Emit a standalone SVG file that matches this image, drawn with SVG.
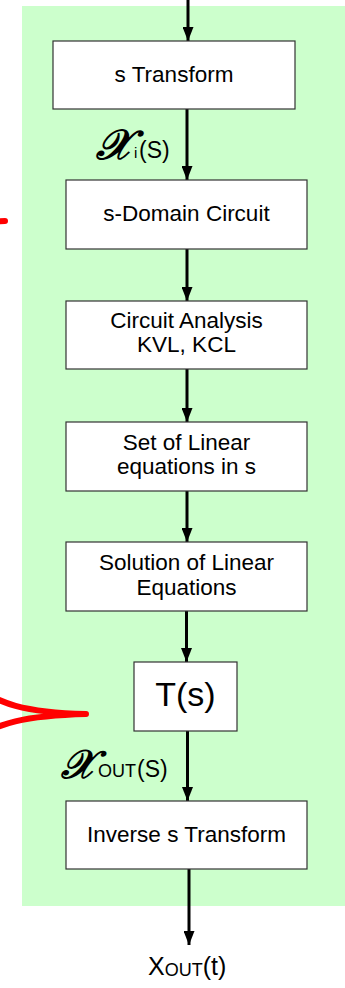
<svg xmlns="http://www.w3.org/2000/svg" width="345" height="988" viewBox="0 0 345 988">
<defs>
<marker id="ah" markerUnits="userSpaceOnUse" markerWidth="14" markerHeight="11" refX="14" refY="5.5" orient="auto">
<path d="M0,0 L14,5.5 L0,11 z" fill="#000"/>
</marker>
<style>
.box{fill:#fff;stroke:#333;stroke-width:1.2}
.t{font-family:"Liberation Sans",Arial,sans-serif;font-size:22.5px;fill:#000;text-anchor:middle}
.lbl{font-family:"Liberation Sans",Arial,sans-serif;fill:#000}
.scr{font-family:"DejaVu Serif","Liberation Serif",serif;font-style:italic;font-weight:bold;fill:#000}
.c{stroke:#000;stroke-width:3;fill:none;marker-end:url(#ah)}
.red{stroke:#ff0000;stroke-width:6;fill:none;stroke-linecap:round}
</style>
</defs>
<rect x="22" y="6" width="323" height="900" fill="#ccffcc"/>
<path class="red" d="M5,221 C-6,221 -20,226 -20,240"/>
<path class="red" d="M-20,690 C-5,698 10,712 86,714 M-20,735 C-5,728 10,716 86,714"/>
<g id="connectors">
<line class="c" x1="188" y1="0" x2="188" y2="41"/>
<line class="c" x1="187" y1="109" x2="187" y2="180"/>
<line class="c" x1="187" y1="249" x2="187" y2="301"/>
<line class="c" x1="187" y1="369" x2="187" y2="422"/>
<line class="c" x1="187" y1="491" x2="187" y2="542"/>
<line class="c" x1="186.5" y1="611" x2="186.5" y2="662"/>
<line class="c" x1="187.5" y1="731" x2="187.5" y2="801"/>
<line class="c" x1="189" y1="869" x2="189" y2="945"/>
</g>
<g id="n1"><rect class="box" x="53" y="41" width="242" height="68"/><text class="t" x="174" y="82">s Transform</text></g>
<g id="n2"><rect class="box" x="66" y="180" width="241" height="69"/><text class="t" x="186.5" y="221">s-Domain Circuit</text></g>
<g id="n3"><rect class="box" x="66" y="301" width="241" height="68"/><text class="t" x="186.5" y="328">Circuit Analysis</text><text class="t" x="186.5" y="352">KVL, KCL</text></g>
<g id="n4"><rect class="box" x="66" y="422" width="241" height="69"/><text class="t" x="186.5" y="450">Set of Linear</text><text class="t" x="186.5" y="474">equations in s</text></g>
<g id="n5"><rect class="box" x="66" y="542" width="241" height="69"/><text class="t" x="186.5" y="570">Solution of Linear</text><text class="t" x="186.5" y="595">Equations</text></g>
<g id="n6"><rect class="box" x="134" y="662" width="103" height="69"/><text class="t" x="185.5" y="706" style="font-size:34px">T(s)</text></g>
<g id="n7"><rect class="box" x="66" y="801" width="241" height="68"/><text class="t" x="186.5" y="842">Inverse s Transform</text></g>
<g id="lbl-xi"><text class="scr" x="96" y="159" font-size="42">𝒳</text><text class="lbl" x="134" y="158" font-size="15">i</text><text class="lbl" x="139" y="158" font-size="23">(S)</text></g>
<g id="lbl-xout"><text class="scr" x="61" y="778" font-size="40">𝒳</text><text class="lbl" x="98" y="777" font-size="18">OUT</text><text class="lbl" x="137" y="777" font-size="23">(S)</text></g>
<g id="lbl-out"><text class="lbl" x="148" y="975" font-size="25">X<tspan font-size="18" dy="1">OUT</tspan><tspan dy="-1">(t)</tspan></text></g>
</svg>
